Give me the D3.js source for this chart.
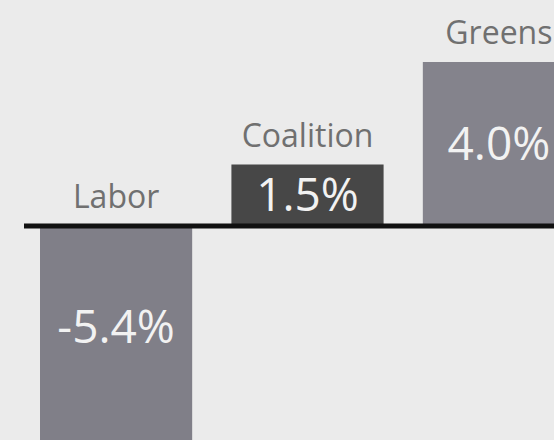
<!DOCTYPE html>
<html lang="en">
  <head>
    <meta charset="UTF-8" />
    <title>Swing by party</title>
    <script src="https://d3js.org/d3.v7.min.js"></script>
    <style>
      body {
        margin: 0;
        background-color: #ebebeb;
        overflow: hidden;
      }
      .cat-label {
        font-family: "Open Sans", sans-serif;
        font-size: 32px;
        fill: #707070;
        text-anchor: middle;
      }
      .val-label {
        font-family: "Open Sans", sans-serif;
        font-size: 46px;
        fill: #f2f2f2;
        text-anchor: middle;
      }
    </style>
  </head>
  <body>
    <div class="chart"></div>

    <script>
      const parties = ["Labor", "Coalition", "Greens"];
      const swings = [-5.4, 1.5, 4.0];
      const barColors = ["#807f88", "#474747", "#84838c"];

      const width = 554,
        height = 440;

      const svg = d3
        .select(".chart")
        .append("svg")
        .attr("width", width)
        .attr("height", height);

      const data = parties.map((p, i) => ({
        party: p,
        value: swings[i],
        color: barColors[i],
      }));

      const x = d3
        .scaleBand()
        .domain(parties)
        .range([40, 575])
        .paddingInner(0.205)
        .paddingOuter(0);

      const y = d3.scaleLinear().domain([0, 4]).range([226, 62]);

      // bars
      svg
        .selectAll(".bar")
        .data(data)
        .enter()
        .append("rect")
        .attr("class", "bar")
        .attr("x", (d) => x(d.party))
        .attr("width", x.bandwidth())
        .attr("y", (d) => Math.min(y(d.value), y(0)))
        .attr("height", (d) => Math.abs(y(d.value) - y(0)))
        .style("fill", (d) => d.color);

      // zero line
      svg
        .append("line")
        .attr("x1", 24)
        .attr("x2", width)
        .attr("y1", y(0))
        .attr("y2", y(0))
        .style("stroke", "#111")
        .style("stroke-width", 5);

      // party names above the bar (or above the axis for negatives)
      svg
        .selectAll(".cat-label")
        .data(data)
        .enter()
        .append("text")
        .attr("class", "cat-label")
        .attr("x", (d) => x(d.party) + x.bandwidth() / 2)
        .attr("y", (d) => Math.min(y(d.value), y(0)) - 18)
        .text((d) => d.party);

      // values inside the bar, plain hyphen for the minus like the original
      svg
        .selectAll(".val-label")
        .data(data)
        .enter()
        .append("text")
        .attr("class", "val-label")
        .attr("x", (d) => x(d.party) + x.bandwidth() / 2)
        .attr("y", (d) => y(d.value / 2) - (d.value < 0 ? 10 : 0))
        .attr("dy", "0.35em")
        .text((d) => d.value.toFixed(1) + "%");
    </script>
  </body>
</html>
